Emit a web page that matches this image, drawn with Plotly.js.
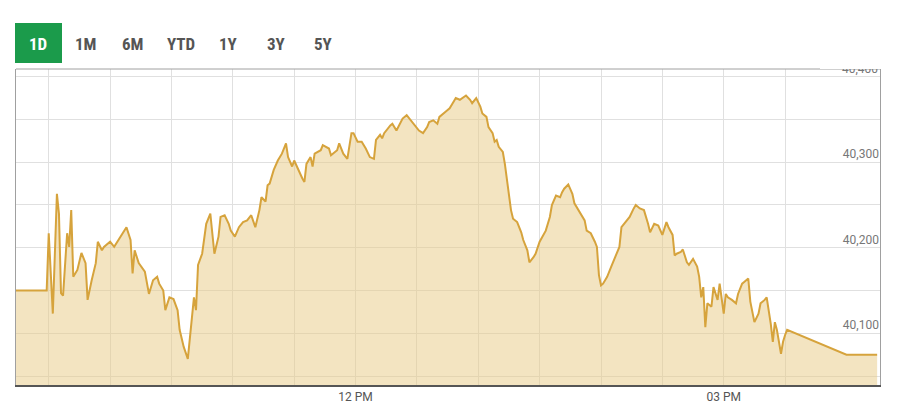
<!DOCTYPE html>
<html>
<head>
<meta charset="utf-8">
<script src="https://cdn.plot.ly/plotly-3.0.1.min.js"></script>
<style>
  html, body { margin: 0; padding: 0; background: #fff; }
  #chart { width: 909px; height: 416px; }
</style>
</head>
<body>
<div id="chart"></div>
<script>
// ---- data ----
const sessionDate = "2024-01-05";
const times = ["09:14","09:29","09:30","09:32","09:34","09:35","09:36","09:37","09:39","09:40",
"09:41","09:42","09:44","09:45","09:46","09:48","09:49","09:51","09:53","09:54",
"09:56","09:57","10:00","10:02","10:05","10:08","10:10","10:11","10:12","10:14",
"10:17","10:19","10:21","10:23","10:24","10:26","10:27","10:29","10:31","10:33",
"10:34","10:36","10:38","10:39","10:40","10:41","10:42","10:43","10:45","10:46",
"10:47","10:49","10:50","10:51","10:53","10:54","10:56","10:58","10:59","11:01",
"11:03","11:05","11:07","11:09","11:11","11:13","11:14","11:16","11:17","11:18",
"11:20","11:22","11:24","11:26","11:27","11:29","11:30","11:32","11:34","11:35",
"11:36","11:38","11:39","11:40","11:43","11:44","11:47","11:48","11:51","11:52",
"11:54","11:56","11:58","11:59","12:01","12:03","12:05","12:07","12:09","12:10",
"12:12","12:13","12:14","12:17","12:18","12:20","12:22","12:23","12:25","12:27",
"12:30","12:31","12:33","12:35","12:36","12:38","12:40","12:41","12:44","12:46",
"12:48","12:49","12:51","12:53","12:54","12:56","12:57","12:59","13:01","13:02",
"13:04","13:05","13:07","13:08","13:09","13:10","13:12","13:13","13:14","13:15",
"13:16","13:17","13:19","13:21","13:22","13:24","13:25","13:27","13:28","13:30",
"13:31","13:33","13:35","13:36","13:38","13:40","13:41","13:42","13:44","13:46",
"13:47","13:48","13:50","13:52","13:53","13:55","13:57","13:58","13:59","14:00",
"14:01","14:03","14:05","14:07","14:09","14:10","14:12","14:14","14:16","14:17",
"14:19","14:21","14:23","14:24","14:26","14:28","14:30","14:32","14:33","14:35",
"14:36","14:37","14:39","14:40","14:42","14:43","14:45","14:47","14:48","14:49",
"14:50","14:51","14:52","14:54","14:55","14:57","14:58","15:00","15:01","15:02",
"15:04","15:06","15:07","15:09","15:10","15:12","15:13","15:15","15:17","15:18",
"15:20","15:21","15:23","15:24","15:25","15:26","15:28","15:29","15:30","15:31",
"16:00","16:15"];
const values = [40150,40150,40217,40123,40263,40240,40147,40144,40217,40201,
40244,40166,40174,40185,40194,40182,40139,40162,40182,40207,
40197,40201,40207,40201,40213,40224,40209,40170,40197,40182,
40172,40146,40162,40166,40158,40150,40127,40142,40140,40127,
40104,40084,40070,40096,40119,40142,40127,40180,40193,40213,
40228,40240,40213,40193,40213,40236,40238,40228,40220,40213,
40224,40230,40232,40238,40224,40244,40259,40254,40273,40275,
40291,40302,40310,40322,40306,40295,40302,40291,40281,40277,
40298,40306,40295,40310,40314,40320,40316,40308,40314,40322,
40310,40304,40334,40334,40324,40324,40316,40306,40304,40326,
40332,40328,40334,40343,40345,40337,40347,40351,40355,40349,
40341,40337,40334,40341,40347,40349,40345,40353,40359,40363,
40371,40375,40373,40376,40378,40373,40369,40375,40365,40357,
40353,40341,40334,40324,40326,40318,40312,40298,40279,40256,
40244,40234,40230,40218,40209,40197,40183,40189,40193,40207,
40211,40220,40236,40250,40261,40259,40265,40269,40274,40263,
40252,40248,40240,40232,40220,40217,40207,40201,40168,40156,
40158,40166,40178,40189,40201,40224,40230,40236,40246,40250,
40246,40244,40228,40218,40228,40226,40215,40230,40224,40215,
40191,40193,40195,40198,40183,40180,40187,40178,40166,40142,
40154,40107,40135,40131,40154,40139,40158,40123,40146,40142,
40139,40135,40146,40158,40160,40164,40137,40113,40123,40135,
40139,40142,40111,40090,40113,40104,40076,40090,40098,40104,
40075,40075];
const rangeButtons = ["1D","1M","6M","YTD","1Y","3Y","5Y"];
const activeButton = "1D";
const topTickValue = 40400;

// ---- layout constants ----
const PLOT_L = 16, PLOT_R = 880, PLOT_T = 69, PLOT_B = 385;
const px = x => (x - PLOT_L) / (PLOT_R - PLOT_L);
const py = y => (PLOT_B - y) / (PLOT_B - PLOT_T);
const buttonCenters = [38.3, 85, 132.7, 180.7, 228.3, 276, 323.3];

const xs = times.map(t => sessionDate + " " + t);

const trace = {
  x: xs, y: values, type: "scatter", mode: "lines",
  line: { color: "#d6a33c", width: 2 },
  fill: "tozeroy", fillcolor: "rgba(231,201,131,0.5)",
  hoverinfo: "skip"
};

const annotations = rangeButtons.map((b, i) => ({
  xref: "paper", yref: "paper", x: px(buttonCenters[i]), y: py(43.5),
  xanchor: "center", yanchor: "middle", showarrow: false, text: b,
  font: { family: "'Roboto Condensed','Liberation Sans Narrow',Roboto,sans-serif", size: 17,
          color: b === activeButton ? "#ffffff" : "#555555", weight: "bold" }
}));
// top tick label, partly hidden behind the plot's top edge as in the reference
annotations.push({
  xref: "paper", yref: "y", x: 1, y: topTickValue, xanchor: "right", yanchor: "bottom",
  xshift: -1, yshift: 0, showarrow: false, text: topTickValue.toLocaleString("en-US"),
  font: { family: "Roboto, sans-serif", size: 12, color: "#777777" }, borderpad: 0
});
annotations.push({
  xref: "paper", yref: "paper", x: 1, y: 1, xanchor: "right", yanchor: "bottom",
  showarrow: false, text: " ", width: 60, height: 8, bgcolor: "#ffffff", borderpad: 0, borderwidth: 0
});

const shapes = [
  { type: "rect", xref: "paper", yref: "paper", x0: px(15), x1: px(62), y0: py(63), y1: py(23),
    fillcolor: "#1b9b4b", line: { width: 0 }, layer: "below" },
  { type: "line", xref: "paper", yref: "paper", x0: 0, x1: 1, y0: 1, y1: 1,
    line: { color: "#a0a0a0", width: 1 }, layer: "above" }
];

const layout = {
  width: 909, height: 416,
  margin: { l: PLOT_L, r: 909 - PLOT_R, t: PLOT_T, b: 416 - PLOT_B, pad: 0 },
  paper_bgcolor: "#ffffff", plot_bgcolor: "#ffffff",
  showlegend: false, hovermode: false,
  font: { family: "Roboto, sans-serif" },
  xaxis: {
    type: "date",
    range: [sessionDate + " 09:14", sessionDate + " 16:16:24"],
    tick0: sessionDate + " 12:00", dtick: 3 * 3600 * 1000,
    tickformat: "%I %p",
    showgrid: true, gridcolor: "#e0e0e0", gridwidth: 1,
    minor: { dtick: 30 * 60 * 1000, tick0: sessionDate + " 09:30", showgrid: true, gridcolor: "#e0e0e0", gridwidth: 1, ticks: "" },
    ticks: "", showline: true, linecolor: "#555555", linewidth: 1.5,
    tickfont: { size: 12, color: "#555555" },
    zeroline: false, fixedrange: true
  },
  yaxis: {
    side: "right",
    range: [40039.5, 40409],
    dtick: 100, tick0: 40000,
    tickformat: ",d",
    ticklabelposition: "inside top",
    showgrid: true, gridcolor: "#e0e0e0", gridwidth: 1,
    minor: { dtick: 50, tick0: 40000, showgrid: true, gridcolor: "#e0e0e0", gridwidth: 1, ticks: "" },
    ticks: "", showline: true, mirror: true, linecolor: "#a0a0a0", linewidth: 1,
    tickfont: { size: 12, color: "#777777" },
    zeroline: false, fixedrange: true
  },
  shapes: shapes,
  annotations: annotations
};

Plotly.newPlot("chart", [trace], layout, { displayModeBar: false, staticPlot: true });
</script>
</body>
</html>
